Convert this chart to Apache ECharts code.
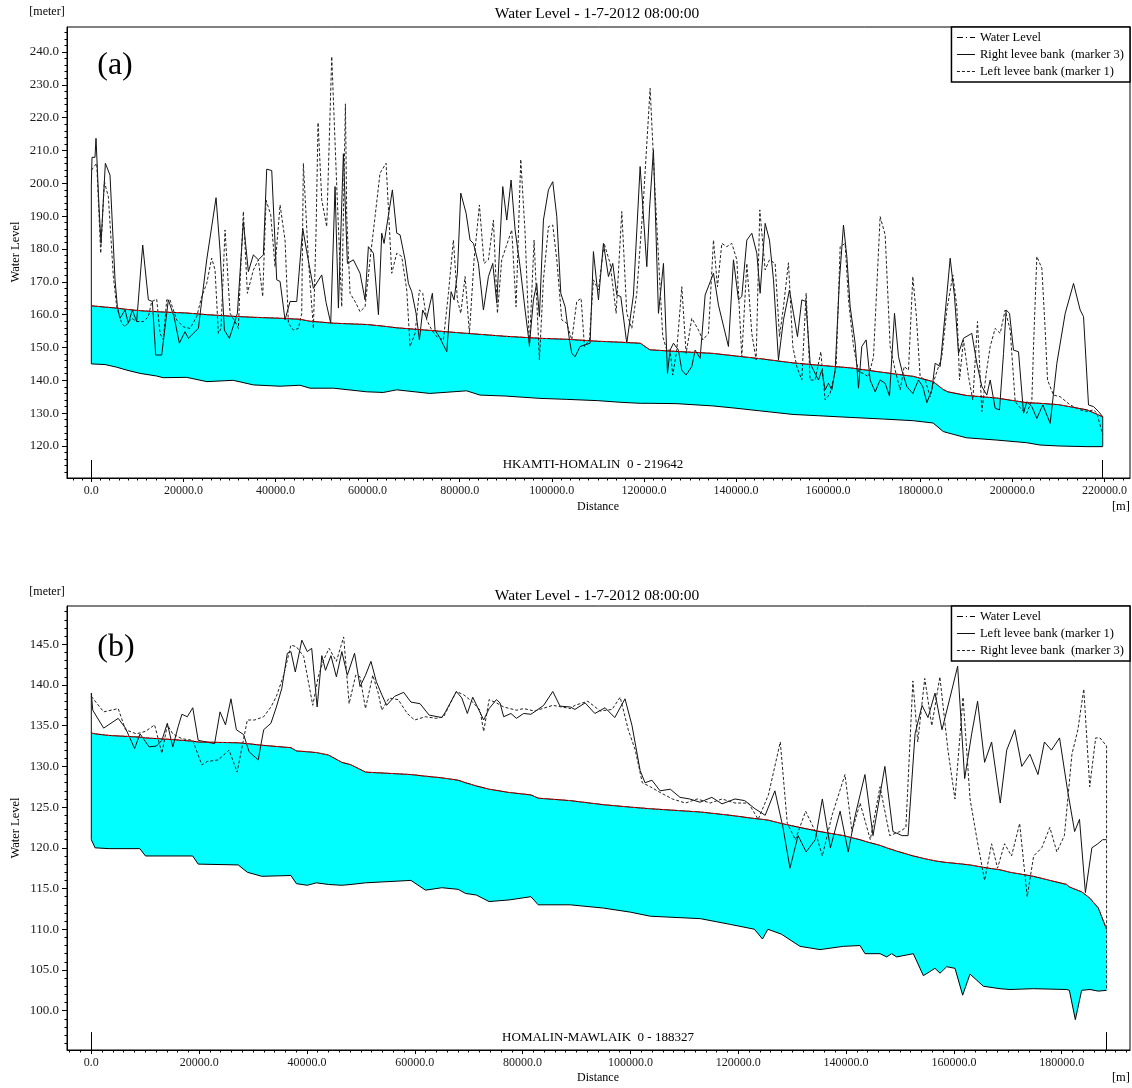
<!DOCTYPE html>
<html><head><meta charset="utf-8">
<script src="https://cdn.jsdelivr.net/npm/echarts@6/dist/echarts.min.js"></script>
<style>html,body{margin:0;padding:0;background:#fff}#c{width:1132px;height:1088px}</style>
</head><body><div id="c"></div>
<script>
const FONT = '"Liberation Serif","Times New Roman",serif';

// ---------------- Panel (a) : HKAMTI-HOMALIN ----------------
const aTitle = 'Water Level - 1-7-2012 08:00:00';
const aReach = 'HKAMTI-HOMALIN  0 - 219642';
const aReachEnd = 219642;
const aXTicks = [0,20000,40000,60000,80000,100000,120000,140000,160000,180000,200000,220000];
const aYTicks = [120,130,140,150,160,170,180,190,200,210,220,230,240];
const aLegend = ['Water Level','Right levee bank  (marker 3)','Left levee bank (marker 1)'];

const aDist  = [0,3000,5500,7700,10600,14200,15600,20700,25100,30800,35200,41000,45300,47500,52600,59800,63400,66300,73500,81500,84400,90000,97400,103200,110000,115000,119200,121300,127000,135000,140000,145200,152400,158000,164800,172000,178500,182800,185000,186000,190000,196600,203100,206000,210000,216200,219642];
const aBed   = [145.0,144.8,144.0,143.1,142.1,141.3,140.8,140.9,139.6,140.0,138.6,138.2,138.5,137.6,137.6,136.5,136.3,137.1,136.0,136.8,135.5,135.2,134.5,134.2,133.8,133.3,133.0,133.0,132.9,132.2,131.5,130.7,129.6,129.2,128.7,128.2,127.7,127.0,124.4,124.0,122.5,121.8,121.0,120.3,120.0,119.8,119.8];
const aWater = [162.7,162.3,162.0,161.6,161.2,160.9,160.8,160.5,160.0,159.5,159.2,158.9,158.6,158.0,157.4,157.0,156.5,156.0,155.2,154.3,154.0,153.4,152.8,152.5,151.9,151.6,151.3,149.3,148.8,148.2,147.4,146.6,145.3,144.6,143.8,142.4,141.2,139.6,137.2,136.5,135.4,134.6,133.2,133.0,132.6,131.0,128.9];

// right levee bank (marker 3) [distance, level]
const aRightBank = [[0,145.0],[0,199.5],[150,207.9],[800,207.9],[1020,213.7],[1670,192.9],[2110,181.7],[3050,206.1],[4060,202.5],[5150,170.6],[5660,162.4],[6230,158.9],[7320,161.4],[8040,157.4],[8910,161.4],[9850,157.9],[11160,181.2],[12390,164.5],[13260,164.0],[13980,147.7],[15280,147.7],[16730,164.5],[17090,165.0],[17960,159.4],[19120,151.3],[20350,154.8],[21080,152.8],[23250,155.8],[25060,176.7],[27090,195.6],[27950,179.7],[28900,155.3],[29980,152.8],[31720,160.4],[33020,188.3],[34110,173.1],[35190,178.2],[36280,176.7],[37370,178.2],[38090,204.3],[39180,203.9],[40260,170.6],[40990,170.1],[42070,158.4],[43160,164.0],[44610,164.0],[45910,186.3],[46780,179.2],[48230,168.0],[50040,172.1],[50980,163.7],[51990,157.4],[52930,199.0],[53660,162.0],[54740,209.0],[55610,175.6],[56910,176.7],[58360,172.6],[59450,164.5],[60170,180.7],[61260,178.7],[62350,160.0],[63070,184.8],[63570,181.7],[65380,198.0],[66330,184.8],[67050,184.3],[68140,176.7],[68860,169.5],[69580,167.0],[70520,160.4],[71250,152.3],[71970,161.4],[72840,158.9],[74070,166.5],[74650,155.3],[75740,152.8],[77190,148.7],[78130,167.0],[78780,164.5],[79500,172.6],[80230,197.0],[81390,190.9],[82250,182.7],[82980,181.7],[84060,175.6],[85150,161.4],[86240,171.6],[87180,175.6],[88050,163.5],[89350,199.0],[90220,188.8],[91160,201.0],[92030,185.8],[93110,174.6],[94200,161.4],[95140,150.8],[96010,164.5],[96730,169.5],[97310,159.4],[98180,188.8],[99270,198.0],[100210,200.5],[101080,189.9],[101950,166.5],[102890,162.4],[103830,152.3],[104340,148.2],[105060,147.2],[106150,150.3],[108320,151.3],[109040,179.2],[110130,164.5],[111210,181.7],[112300,171.6],[113240,175.6],[114110,166.0],[114980,165.5],[116280,151.3],[117730,166.0],[119180,205.1],[120630,174.6],[121210,191.9],[122070,210.2],[123160,160.4],[124250,175.6],[125120,142.1],[125690,149.2],[126420,151.3],[127500,149.2],[128230,143.1],[129170,141.6],[130400,144.2],[131120,149.2],[132210,146.7],[133300,166.0],[135110,172.6],[136190,162.9],[138360,150.3],[139450,176.7],[140540,164.5],[141260,165.5],[142350,182.7],[143430,184.8],[144520,178.7],[145240,166.5],[146330,187.8],[147270,182.7],[148140,170.6],[149220,146.2],[150310,158.4],[151610,167.5],[152480,160.4],[153350,153.3],[154290,164.5],[155160,164.0],[156100,145.2],[156820,143.1],[157910,140.1],[158630,143.1],[159360,137.1],[160080,139.1],[160810,137.1],[161530,143.1],[162470,170.6],[163340,187.3],[164060,177.7],[164790,162.4],[165870,151.3],[166600,137.6],[167320,150.3],[168260,152.3],[169130,140.1],[170220,136.5],[171300,140.1],[172390,139.1],[173330,135.2],[174420,160.4],[175290,147.2],[176010,143.1],[177100,138.1],[178400,136.0],[179630,140.1],[180570,138.1],[181440,133.2],[182530,137.1],[183250,145.2],[184340,144.2],[185420,160.4],[186510,177.2],[187450,165.5],[188320,148.2],[189400,152.8],[191210,154.3],[192300,145.2],[193390,138.1],[194470,135.5],[195200,140.1],[196280,131.5],[197220,131.0],[198090,148.2],[198670,161.4],[199400,160.4],[200260,149.2],[201350,148.7],[202440,130.0],[203160,133.5],[204250,132.0],[205330,128.4],[206640,132.5],[208230,126.9],[209680,145.2],[211490,160.4],[213300,169.5],[214740,161.4],[215470,159.4],[216550,132.5],[217640,132.0],[218730,130.5],[219642,128.9],[219642,119.8]];

// left levee bank (marker 1) [distance, level]
const aLeftBank = [[0,204.0],[1170,206.1],[2040,178.7],[2830,200.5],[3700,195.9],[4790,171.6],[5510,162.4],[6600,157.4],[7320,156.3],[8770,158.9],[9850,157.9],[11300,157.9],[12390,159.4],[13110,164.0],[14200,164.7],[14920,154.3],[15650,152.3],[16370,164.5],[17090,164.5],[18540,158.4],[19990,156.3],[21440,155.8],[22890,159.4],[23970,165.5],[25060,169.5],[26140,177.2],[26870,173.6],[27590,154.3],[28170,155.8],[29040,185.8],[30130,160.4],[31210,157.9],[31940,155.8],[32300,169.5],[33020,191.4],[33890,166.5],[35190,173.6],[36280,176.7],[37220,165.5],[37950,194.9],[38960,190.4],[39900,174.6],[40990,193.4],[42070,182.7],[42800,157.4],[43880,155.3],[44970,155.8],[45690,160.4],[46050,206.1],[47140,176.7],[48230,155.8],[48810,185.8],[49240,218.5],[50040,195.0],[51120,186.8],[52210,238.6],[53300,199.0],[54380,162.4],[55180,224.2],[55470,189.9],[56190,166.5],[57280,164.0],[58360,160.9],[59450,162.4],[60530,176.7],[61620,189.9],[62700,203.1],[64010,206.1],[65240,172.6],[66330,178.7],[67410,177.7],[68500,167.5],[69220,150.3],[70310,154.3],[71250,167.5],[71970,166.5],[72840,158.4],[73930,155.3],[75010,153.3],[76460,152.3],[77550,166.5],[78630,182.7],[79500,164.5],[80230,160.4],[81170,171.6],[82110,154.3],[83120,176.7],[84280,193.4],[85290,175.6],[86240,176.7],[87320,188.8],[88190,160.4],[89130,176.7],[90070,180.7],[91300,185.8],[92240,162.4],[93260,207.3],[94200,184.8],[95140,150.3],[96150,182.7],[97310,146.2],[98180,170.6],[99270,186.8],[100210,187.3],[101080,176.7],[102160,158.4],[103250,157.4],[104340,152.3],[105420,164.0],[106360,165.0],[107090,150.3],[108170,152.3],[109040,170.6],[110130,167.5],[111360,181.7],[112660,175.6],[113970,160.4],[115200,191.4],[116280,160.4],[117370,155.8],[118450,166.5],[119900,194.9],[121350,228.9],[122440,197.0],[123380,171.6],[124100,153.3],[124970,149.2],[125690,149.2],[126270,141.6],[127140,149.2],[128230,168.5],[129170,148.2],[130400,158.9],[131850,155.3],[132790,152.3],[134020,154.3],[135110,182.7],[135980,168.5],[136920,181.7],[138000,180.7],[139090,181.7],[140180,176.7],[141260,147.2],[142350,175.6],[143430,154.3],[144370,146.2],[145170,191.9],[146330,173.6],[147270,176.7],[148500,175.6],[149440,153.3],[150310,162.4],[151390,175.8],[152340,150.3],[153200,144.2],[154290,140.1],[155230,166.5],[156100,140.1],[157190,140.1],[158420,148.7],[159360,134.0],[160440,136.0],[161750,144.2],[162620,180.7],[163700,181.7],[164430,164.5],[165510,150.3],[166600,142.6],[167680,142.1],[168770,141.1],[169860,147.2],[171300,189.9],[172390,184.3],[173480,150.3],[174560,143.1],[175650,137.1],[176520,144.2],[177460,143.1],[178400,171.6],[179120,160.4],[179990,141.1],[181080,140.1],[182160,135.0],[183030,140.1],[184700,147.2],[185780,161.4],[187090,172.1],[187960,162.4],[188540,140.1],[189400,152.3],[190490,141.1],[191430,134.0],[192440,157.9],[193390,130.5],[194330,142.1],[195200,150.3],[196280,155.8],[197370,154.3],[198450,161.4],[199540,155.3],[200630,133.5],[202070,131.0],[203160,130.0],[204250,134.0],[204610,150.3],[205330,177.7],[206420,174.1],[207140,155.3],[207650,140.1],[208950,135.5],[210400,135.0],[212570,132.5],[214740,131.0],[216190,130.5],[217640,131.0],[218370,130.0],[219642,123.4]];

// ---------------- Panel (b) : HOMALIN-MAWLAIK ----------------
const bTitle = 'Water Level - 1-7-2012 08:00:00';
const bReach = 'HOMALIN-MAWLAIK  0 - 188327';
const bReachEnd = 188327;
const bXTicks = [0,20000,40000,60000,80000,100000,120000,140000,160000,180000];
const bYTicks = [100,105,110,115,120,125,130,135,140,145];
const bLegend = ['Water Level','Left levee bank (marker 1)','Right levee bank  (marker 3)'];

const bDist  = [0,700,3300,9000,10050,15000,18800,19830,27250,28940,31630,37030,38040,40060,41750,44000,46470,48160,50860,59290,61990,65020,68060,69410,71430,73790,77500,81550,82900,88830,95000,100000,103700,113000,118500,123000,124500,125500,128000,131460,135170,139500,142590,143520,146300,147540,148460,149390,152480,154340,156500,157430,158670,160210,161630,162990,165470,168560,170410,174740,180920,181420,182530,183700,185250,186800,188327];
const bBed   = [121.0,120.0,119.9,119.9,119.0,119.0,119.0,118.0,117.9,117.0,116.5,116.6,115.6,115.4,115.7,115.5,115.4,115.5,115.7,116.0,114.8,115.1,114.9,114.4,114.2,113.4,113.6,114.0,113.0,113.0,112.6,112.1,111.6,111.3,110.6,110.0,108.8,110.0,109.4,107.9,107.5,107.9,108.0,107.0,107.0,106.6,107.0,106.6,107.0,104.3,105.2,104.6,105.4,105.2,101.9,104.5,103.0,102.7,102.6,102.7,102.6,102.5,98.9,102.5,102.6,102.4,102.5];
const bWater = [134.1,134.0,133.8,133.6,133.5,133.3,133.1,133.0,132.9,132.8,132.6,132.3,131.9,131.8,131.7,131.4,130.5,130.2,129.3,129.0,128.8,128.6,128.3,128.0,127.6,127.2,126.8,126.5,126.1,125.8,125.3,125.0,124.8,124.4,124.0,123.6,123.5,123.4,123.0,122.5,122.0,121.5,121.0,120.8,120.3,120.0,119.8,119.6,119.0,118.7,118.4,118.3,118.2,118.1,118.0,117.9,117.6,117.3,117.0,116.5,115.5,115.2,114.9,114.6,113.8,112.6,110.0];

// left levee bank (marker 1) [distance, level]
const bLeftBank = [[0,121.0],[0,139.0],[270,136.9],[2290,134.7],[4990,135.9],[6340,134.7],[8030,132.2],[9040,134.0],[10720,132.4],[12070,132.5],[13090,133.2],[14100,135.3],[15110,132.4],[16120,134.9],[16800,136.4],[17810,136.1],[18820,137.2],[19830,133.2],[22870,132.8],[23880,136.7],[24890,135.1],[25900,138.3],[26910,134.5],[28260,133.9],[29270,131.8],[30960,130.8],[31970,134.5],[33320,135.3],[34330,137.3],[35340,139.6],[36360,143.9],[37030,144.1],[37840,141.6],[39050,145.5],[40060,144.1],[40880,144.5],[41890,137.3],[42760,143.6],[43440,141.8],[44450,143.6],[45460,141.0],[46470,144.1],[47490,141.2],[48830,143.9],[49850,139.8],[50860,141.2],[51870,142.9],[52880,140.4],[53890,138.8],[54770,137.5],[56250,138.6],[57940,139.1],[59290,137.9],[60980,137.7],[62660,136.3],[65020,136.0],[65700,136.7],[67720,139.2],[68730,138.4],[69750,136.5],[70750,138.5],[72780,135.7],[73790,137.1],[75140,138.2],[75810,137.8],[76490,136.1],[77840,136.5],[78850,135.9],[80200,136.5],[81550,136.4],[83910,137.5],[85600,139.2],[86940,137.4],[88830,137.3],[89700,137.0],[91600,137.8],[93400,136.5],[95300,137.2],[97100,136.0],[99000,138.3],[100300,135.0],[101800,129.5],[102700,128.0],[104000,128.3],[105500,127.0],[107400,127.2],[109200,126.2],[111000,126.0],[112900,125.6],[115100,126.2],[117000,125.4],[119400,126.0],[121200,125.8],[123100,124.8],[125000,124.0],[126800,127.0],[128300,122.5],[129600,117.5],[131100,121.5],[132600,119.5],[134300,121.0],[135600,126.0],[137100,120.0],[138900,124.5],[140400,119.5],[141700,124.0],[143500,129.0],[145000,121.5],[147200,130.0],[148700,122.0],[150400,121.5],[151500,121.5],[152800,134.0],[154100,137.5],[155200,136.0],[156500,139.0],[157800,134.5],[159300,138.5],[160700,142.3],[162000,128.5],[163300,134.0],[164400,138.0],[165700,130.5],[167000,133.0],[168600,125.5],[169800,132.0],[171300,134.5],[172600,130.0],[174100,131.5],[175600,129.0],[176800,133.0],[178100,132.0],[179600,133.5],[181100,127.0],[182400,122.0],[183300,123.5],[184400,114.5],[185600,120.0],[186700,120.5],[187600,121.0],[188327,121.0]];

// right levee bank (marker 3) [distance, level]
const bRightBank = [[0,138.6],[2290,136.7],[4990,137.1],[6340,134.5],[8360,134.0],[10050,134.3],[11740,135.1],[13090,131.6],[14100,135.1],[15110,134.0],[16800,133.4],[18820,133.2],[20500,130.2],[21520,130.6],[23540,130.8],[25560,132.0],[27050,129.3],[28940,135.7],[30290,135.7],[31970,136.1],[33320,137.3],[34330,138.6],[35680,141.2],[37030,144.9],[38040,144.7],[39390,143.5],[41080,137.5],[42090,141.0],[43100,143.1],[44110,144.5],[45460,142.9],[46810,145.9],[47820,137.7],[49040,141.2],[49850,141.0],[50860,137.1],[52210,141.2],[53220,139.0],[53890,136.9],[55240,138.4],[56930,138.2],[58610,136.5],[59960,135.7],[61990,136.1],[64010,135.9],[65360,136.1],[66710,137.9],[67720,139.2],[69070,138.8],[70750,137.9],[72100,136.9],[72780,134.3],[73790,138.2],[75140,137.8],[76490,137.3],[78850,136.9],[80200,137.1],[82220,136.8],[85600,137.5],[88830,137.1],[89700,137.5],[92100,138.0],[94400,136.8],[96600,137.0],[98100,138.5],[99600,134.5],[100900,132.0],[102200,128.0],[103700,127.5],[105500,126.8],[107800,126.0],[110200,125.5],[112400,126.0],[114800,125.5],[117000,126.0],[119400,125.5],[121900,125.5],[123700,123.5],[125600,126.5],[127800,133.0],[129100,123.0],[130600,121.0],[132500,124.5],[134300,122.0],[135600,119.0],[137400,124.0],[139800,129.0],[141100,122.0],[142600,125.5],[144500,121.0],[146300,127.5],[148100,121.5],[150000,122.0],[151100,122.5],[152400,140.5],[153300,133.0],[154600,140.8],[155900,135.0],[157400,141.0],[158900,132.0],[160200,126.0],[161700,138.5],[163000,126.0],[164300,121.0],[165700,116.0],[167000,120.5],[168100,117.5],[169400,120.5],[170700,119.0],[172200,123.0],[173600,114.0],[174800,119.0],[176300,120.0],[177800,122.5],[179100,119.5],[180500,121.5],[181900,131.5],[183000,134.5],[184100,139.5],[185200,127.5],[186300,133.5],[187100,133.5],[188327,132.5],[188327,102.5]];

// ---------------- helpers ----------------
const pairs = (d, v) => d.map((x, i) => [x, v[i]]);
function minorList(min, max, step){ const r=[]; for(let v=Math.ceil(min/step)*step; v<=max+1e-9; v+=step) r.push(+v.toFixed(6)); return r; }
function xAxes(gi, min, max, major, minorStep){
  return [
    {type:'value', gridIndex:gi, position:'bottom', min, max, z:5,
     axisLine:{show:true, onZero:false, lineStyle:{color:'#000', width:1}},
     axisTick:{show:true, customValues:major, length:4, lineStyle:{color:'#000'}},
     axisLabel:{show:true, customValues:major, margin:7, formatter:v=>Number(v).toFixed(1), fontFamily:FONT, fontSize:12, color:'#1a1a1a'},
     splitLine:{show:false}},
    {type:'value', gridIndex:gi, position:'bottom', min, max, z:5,
     axisLine:{show:false, onZero:false},
     axisTick:{show:true, customValues:minorList(min,max,minorStep), length:2.5, lineStyle:{color:'#000'}},
     axisLabel:{show:false}, splitLine:{show:false}}
  ];
}
function yAxes(gi, min, max, major, minorStep){
  return [
    {type:'value', gridIndex:gi, position:'left', min, max, z:5,
     axisLine:{show:true, onZero:false, lineStyle:{color:'#000', width:1}},
     axisTick:{show:true, customValues:major, length:5, lineStyle:{color:'#000'}},
     axisLabel:{show:true, customValues:major, margin:8, formatter:v=>Number(v).toFixed(1), fontFamily:FONT, fontSize:13, color:'#1a1a1a'},
     splitLine:{show:false}},
    {type:'value', gridIndex:gi, position:'left', min, max, z:5,
     axisLine:{show:false, onZero:false},
     axisTick:{show:true, customValues:minorList(min,max,minorStep), length:2.5, lineStyle:{color:'#000'}},
     axisLabel:{show:false}, splitLine:{show:false}}
  ];
}
function legendFor(top, names, styles){
  return {
    orient:'vertical', right:2, top, padding:[4,6,4,5], itemGap:4, itemWidth:18, itemHeight:12,
    borderColor:'#000', borderWidth:1.5, backgroundColor:'#fff', borderRadius:0, selectedMode:false,
    textStyle:{fontFamily:FONT, fontSize:12.5, color:'#000', lineHeight:12},
    data: names.map((n,i)=>({name:n, itemStyle:{opacity:0}, lineStyle:styles[i]}))
  };
}
const solidStyle = {color:'#111', width:1, type:'solid'};
const dotStyle   = {color:'#222', width:1, type:[3,2]};
const wlLegStyle = {color:'#000', width:1, type:[6,3,1,3]};

const aRange = {xmin:-5280, xmax:225560, ymin:110.25, ymax:247.6};
const bRange = {xmin:-4510, xmax:192670, ymin:95.17, ymax:149.7};

function panelSeries(xi, yi, dist, bed, water, solidName, solidData, dotName, dotData, reachEnd, ymin, markH){
  const common = {type:'line', xAxisIndex:xi, yAxisIndex:yi, symbol:'none', showSymbol:false, animation:false, silent:true};
  return [
    // wetted cross-section: polygon between water surface and bed, placed through the axes
    {type:'custom', xAxisIndex:xi, yAxisIndex:yi, silent:true, animation:false, z:1,
     data:[[dist[0], water[0]]],
     renderItem:(params, api)=>{
       const pts=[];
       for(let i=0;i<dist.length;i++) pts.push(api.coord([dist[i], water[i]]));
       for(let i=dist.length-1;i>=0;i--) pts.push(api.coord([dist[i], bed[i]]));
       return {type:'polygon', shape:{points:pts}, style:{fill:'#00ffff'}};
     }},
    Object.assign({}, common, {name:'bed'+xi, data:pairs(dist, bed), z:2, lineStyle:{color:'#000', width:1}}),
    Object.assign({}, common, {name:'surf'+xi, data:pairs(dist, water), z:2, lineStyle:{color:'#000', width:1}}),
    Object.assign({}, common, {name:solidName, data:solidData, z:3, lineStyle:solidStyle}),
    Object.assign({}, common, {name:dotName, data:dotData, z:3, lineStyle:dotStyle}),
    Object.assign({}, common, {name:'Water Level', data:pairs(dist, water), z:4,
      lineStyle:{color:'#ff0000', width:1, type:[3,2]},
      markLine:{symbol:'none', silent:true, animation:false, label:{show:false},
        lineStyle:{color:'#000', width:1, type:'solid'},
        data:[[{coord:[0, ymin]},{coord:[0, ymin+markH]}],[{coord:[reachEnd, ymin]},{coord:[reachEnd, ymin+markH]}]]}})
  ];
}

function txt(x, y, text, size, extra){
  const el = {type:'text', x, y, z:20, silent:true,
    style:{text, fill:'#000', font: size+'px '+FONT, align:'center', verticalAlign:'middle'}};
  if (extra && extra.rotation) el.rotation = extra.rotation;
  if (extra && extra.align) el.style.align = extra.align;
  return el;
}

const chart = echarts.init(document.getElementById('c'), null, {renderer:'canvas'});
chart.setOption({
  animation:false,
  backgroundColor:'#fff',
  grid:[
    {left:67, top:27, width:1063, height:451, show:true, borderColor:'#000', borderWidth:1, backgroundColor:'rgba(0,0,0,0)'},
    {left:67, top:606, width:1063, height:444, show:true, borderColor:'#000', borderWidth:1, backgroundColor:'rgba(0,0,0,0)'}
  ],
  xAxis:[].concat(xAxes(0, aRange.xmin, aRange.xmax, aXTicks, 2000), xAxes(1, bRange.xmin, bRange.xmax, bXTicks, 2000)),
  yAxis:[].concat(yAxes(0, aRange.ymin, aRange.ymax, aYTicks, 2), yAxes(1, bRange.ymin, bRange.ymax, bYTicks, 1)),
  legend:[
    legendFor(27, aLegend, [wlLegStyle, solidStyle, dotStyle]),
    legendFor(606, bLegend, [wlLegStyle, solidStyle, dotStyle])
  ],
  series:[].concat(
    panelSeries(0, 0, aDist, aBed, aWater, aLegend[1], aRightBank, aLegend[2], aLeftBank, aReachEnd, aRange.ymin, 5.5),
    panelSeries(2, 2, bDist, bBed, bWater, bLegend[1], bLeftBank, bLegend[2], bRightBank, bReachEnd, bRange.ymin, 2.2)
  ),
  graphic:[
    txt(597, 14, aTitle, 15.5),
    txt(47, 12, '[meter]', 12),
    txt(115, 66, '(a)', 32),
    txt(16, 252, 'Water Level', 12.5, {rotation:Math.PI/2}),
    txt(598, 507, 'Distance', 12),
    txt(1130, 507, '[m]', 12.5, {align:'right'}),
    txt(593, 465, aReach, 13),
    txt(597, 596, bTitle, 15.5),
    txt(47, 592, '[meter]', 12),
    txt(116, 648, '(b)', 32),
    txt(16, 828, 'Water Level', 12.5, {rotation:Math.PI/2}),
    txt(598, 1078, 'Distance', 12),
    txt(1130, 1078, '[m]', 12.5, {align:'right'}),
    txt(598, 1038, bReach, 13)
  ]
});
</script></body></html>
